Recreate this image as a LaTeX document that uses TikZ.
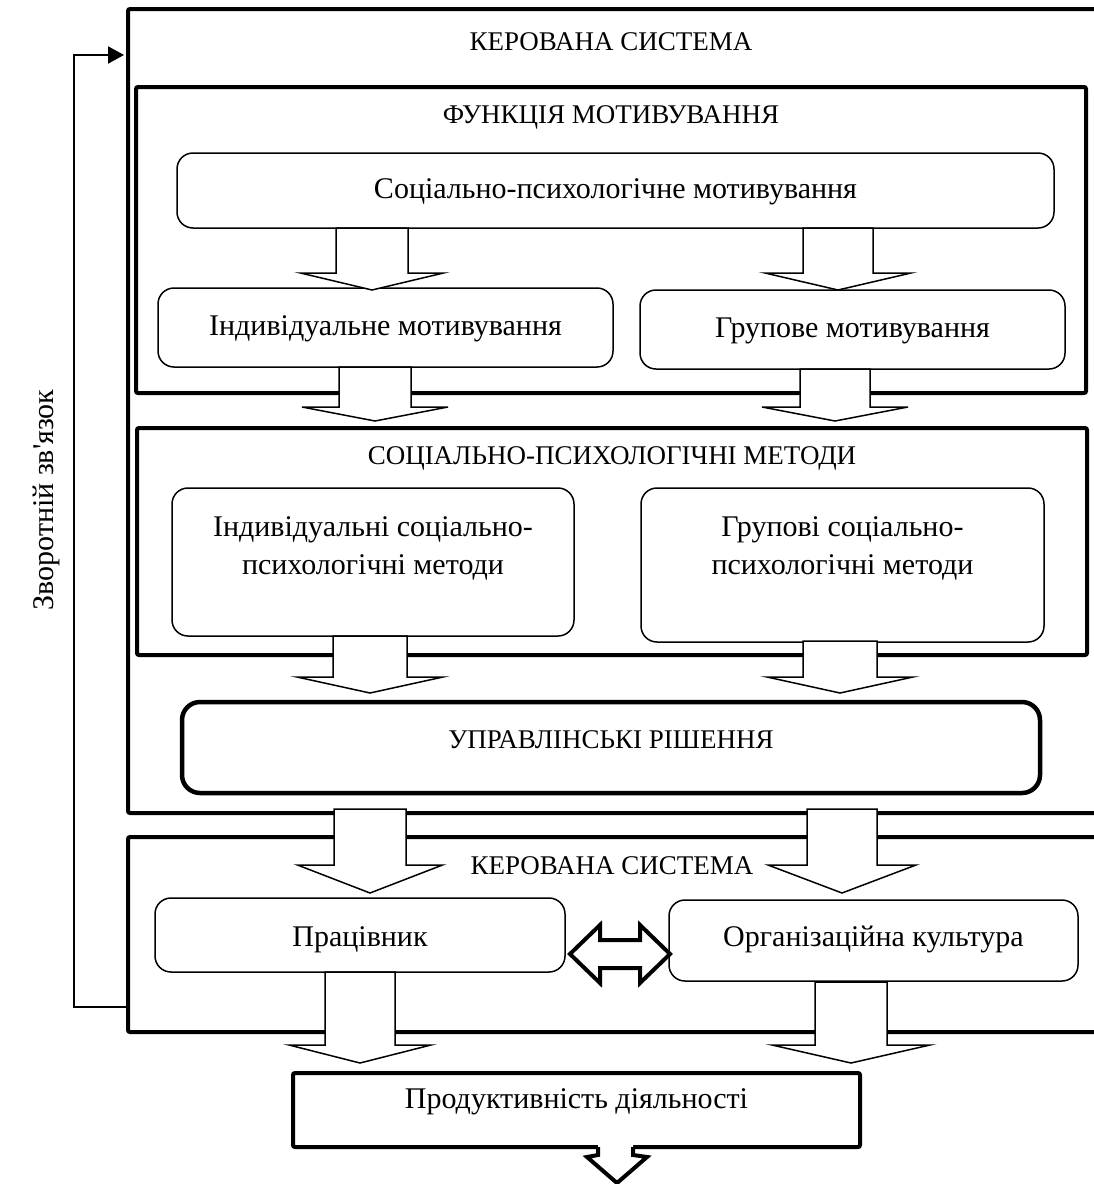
\documentclass[tikz,border=0pt]{standalone}
\usepackage{fontspec}
\setmainfont{Liberation Serif}
\newfontfamily\plainserif{Liberation Serif}
\usetikzlibrary{arrows.meta}

% block arrow: centre x, top y, shoulder y, tip y, half shaft width, half head width
\newcommand\blockarr[6]{%
  \draw[barrow] ({#1-#5},#2) -- ({#1+#5},#2) -- ({#1+#5},#3) -- ({#1+#6},#3)
    -- (#1,#4) -- ({#1-#6},#3) -- ({#1-#5},#3) -- cycle;}

\tikzset{
  every node/.style={font=\fontsize{30}{38}\selectfont, inner sep=0pt, align=center},
  txt/.style={text height=23pt, text depth=7pt},
  caps/.style={font=\fontsize{27}{34}\selectfont, text height=20pt, text depth=4pt},
  frame/.style={draw, line width=4pt, rounded corners=2pt},
  rbox/.style={draw, line width=1.5pt, rounded corners=16pt, fill=white, txt},
  urbox/.style={draw, line width=4.5pt, rounded corners=18pt},
  barrow/.style={draw, line width=1.5pt, fill=white, line join=miter},
  dblarrow/.style={draw, line width=4pt, fill=white, line join=miter},
  fb/.style={line width=2pt},
}

\begin{document}
\begin{tikzpicture}[x=1pt, y=-1pt]
\useasboundingbox (0,0) rectangle (1093,1184);

% frames
\node[frame, minimum width=970pt, minimum height=804pt] (outer) at (613,411) {};
\node[frame, minimum width=950pt, minimum height=306pt] (fm) at (611,240) {};
\node[frame, minimum width=950pt, minimum height=227pt] (spm) at (612,541.5) {};
\node[frame, minimum width=970pt, minimum height=195pt] (bot) at (613,934.5) {};
\node[frame, minimum width=567pt, minimum height=74pt] (prod) at (576.5,1110) {};

% frame titles
\node[caps] (t1) at (611,42) {КЕРОВАНА СИСТЕМА};
\node[caps] (t2) at (611,115) {ФУНКЦІЯ МОТИВУВАННЯ};
\node[caps] (t3) at (612,456) {СОЦІАЛЬНО-ПСИХОЛОГІЧНІ МЕТОДИ};
\node[caps] (t4) at (612,866) {КЕРОВАНА СИСТЕМА};
\node[txt] (t5) at (576.5,1100) {Продуктивність діяльності};

% inner boxes
\node[rbox, minimum width=877pt, minimum height=75pt] (spmot) at (615.5,190.5) {Соціально-психологічне мотивування};
\node[rbox, minimum width=455pt, minimum height=79pt] (im) at (385.5,327.5) {Індивідуальне мотивування};
\node[rbox, minimum width=425pt, minimum height=79pt] (gm) at (852.5,329.5) {Групове мотивування};
\node[rbox, minimum width=402pt, minimum height=148pt] (ism) at (373,562) {};
\node[rbox, minimum width=403pt, minimum height=154pt] (gsm) at (842.5,565) {};
\node (ismt) at (373,548) {Індивідуальні соціально-\\психологічні методи};
\node (gsmt) at (842.5,548) {Групові соціально-\\психологічні методи};
\node[urbox, minimum width=858pt, minimum height=91pt] (ur) at (611,747.5) {};
\node[caps] (urt) at (611,740) {УПРАВЛІНСЬКІ РІШЕННЯ};
\node[rbox, minimum width=410pt, minimum height=74pt] (prac) at (360,935) {};
\node[txt] (pract) at (360,938) {Працівник};
\node[rbox, minimum width=409pt, minimum height=81pt] (ok) at (873.5,940.5) {};
\node[txt] (okt) at (873.5,938) {Організаційна культура};

% block arrows between levels
\blockarr{372}{228}{273}{290}{36}{71.5}
\blockarr{838}{228}{273}{290}{35}{73}
\blockarr{375}{367}{407}{421}{36}{73}
\blockarr{835}{369}{407}{421}{35}{73}
\blockarr{370}{636}{677}{693}{37}{73}
\blockarr{840}{641}{677}{693}{37}{73}
\blockarr{370}{809}{865}{893}{36}{72.5}
\blockarr{842}{809}{865}{893}{35}{74}
\blockarr{360}{972}{1045}{1063}{35}{71}
\blockarr{851}{982}{1045}{1063}{36}{79}

% two-way arrow between the two lower boxes
\draw[dblarrow] (570,954) -- (600,925) -- (600,940) -- (640,940) -- (640,925)
  -- (670,954) -- (640,983) -- (640,968) -- (600,968) -- (600,983) -- cycle;

% outgoing arrow under the result box
\fill[white] (598,1144) -- (633,1144) -- (633,1155) -- (647,1157) -- (617,1183)
  -- (587,1157) -- (598,1155) -- cycle;
\draw[line width=4pt, line join=miter] (598,1147) -- (598,1155) -- (587,1157)
  -- (617,1183) -- (647,1157) -- (633,1155) -- (633,1147);

% feedback loop
\coordinate (fbB) at (74,1007);
\coordinate (fbT) at (74,55);
\draw[fb, -{Triangle[length=16pt,width=17pt]}] (bot.west |- fbB) -- (fbB) -- (fbT)
  -- ([xshift=-2pt]outer.west |- fbT);
\node[rotate=90, font=\plainserif\fontsize{30}{36}\selectfont] (fbl) at (46,500) {Зворотній зв'язок};
\end{tikzpicture}
\end{document}
